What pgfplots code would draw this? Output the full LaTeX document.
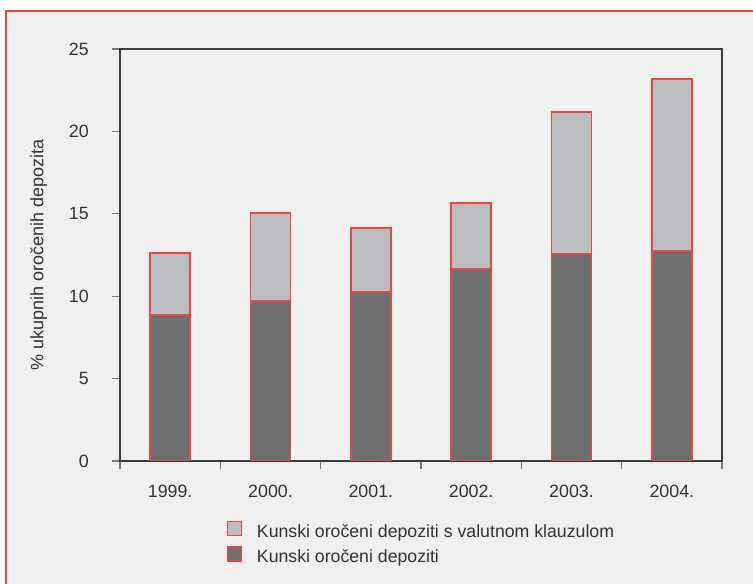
\documentclass[border=0pt]{standalone}
\usepackage{fontspec}
\setmainfont{Liberation Sans}
\usepackage{pgfplots}
\pgfplotsset{compat=1.18}
\definecolor{bg}{RGB}{239,240,239}
\definecolor{darkbar}{RGB}{109,110,112}
\definecolor{lightbar}{RGB}{188,189,192}
\definecolor{redl}{RGB}{236,70,62}
\definecolor{axc}{RGB}{60,60,60}
\definecolor{tickc}{RGB}{120,120,120}
\definecolor{txt}{RGB}{51,51,51}
\begin{document}
\begin{tikzpicture}[x=1pt,y=1pt]
\useasboundingbox (0,0) rectangle (753,584);
\fill[white] (0,0) rectangle (753,584);
\filldraw[fill=bg, draw=redl, line width=1.2pt] (6,-20) rectangle (780,573);
\begin{axis}[
  at={(120pt,123pt)}, anchor=south west,
  scale only axis, width=602pt, height=412pt,
  xmin=-0.5, xmax=5.5, ymin=0, ymax=25,
  ybar stacked, bar width=40pt,
  xtick pos=bottom, ytick pos=left,
  xtick={-0.5,0.5,1.5,2.5,3.5,4.5,5.5}, xticklabels={},
  extra x ticks={0,1,2,3,4,5},
  extra x tick labels={1999.,2000.,2001.,2002.,2003.,2004.},
  extra x tick style={major tick length=0pt,
    xticklabel style={anchor=north, inner sep=0pt, yshift=-24pt}},
  ytick={0,5,10,15,20,25},
  yticklabel style={anchor=east, inner sep=0pt, xshift=-23pt},
  tick align=outside,
  major tick length=8pt,
  every tick/.style={color=tickc, line width=1.2pt},
  axis line style={axc, line width=1.3pt},
  /pgf/number format/assume math mode=true,
  tick label style={font=\fontsize{17.8}{21}\selectfont, text=txt},
  ylabel={\% ukupnih oročenih depozita},
  ylabel style={at={(axis description cs:-0.135,0.5)}, anchor=center, rotate=0,
    font=\fontsize{18}{21}\selectfont, text=txt},
  reverse legend,
  legend cell align=left,
  legend style={draw=none, fill=none, inner sep=0pt, outer sep=0pt,
    at={(axis description cs:0.177,-0.145)}, anchor=north west,
    column sep=15pt, row sep=7.5pt,
    nodes={inner sep=0pt, font=\fontsize{17.7}{21}\selectfont, text=txt}},
  legend image code/.code={\draw[#1,line width=1.4pt] (0pt,-4pt) rectangle (14pt,10pt);},
]
\addplot[fill=darkbar, draw=redl, line width=1.8pt] coordinates {
(0,8.86) (1,9.73) (2,10.24) (3,11.63) (4,12.54) (5,12.74)};
\addlegendentry{Kunski oročeni depoziti}
\addplot[fill=lightbar, draw=redl, line width=1.8pt] coordinates {
(0,3.74) (1,5.30) (2,3.92) (3,4.01) (4,8.66) (5,10.44)};
\addlegendentry{Kunski oročeni depoziti s valutnom klauzulom}
\end{axis}
\end{tikzpicture}
\end{document}
